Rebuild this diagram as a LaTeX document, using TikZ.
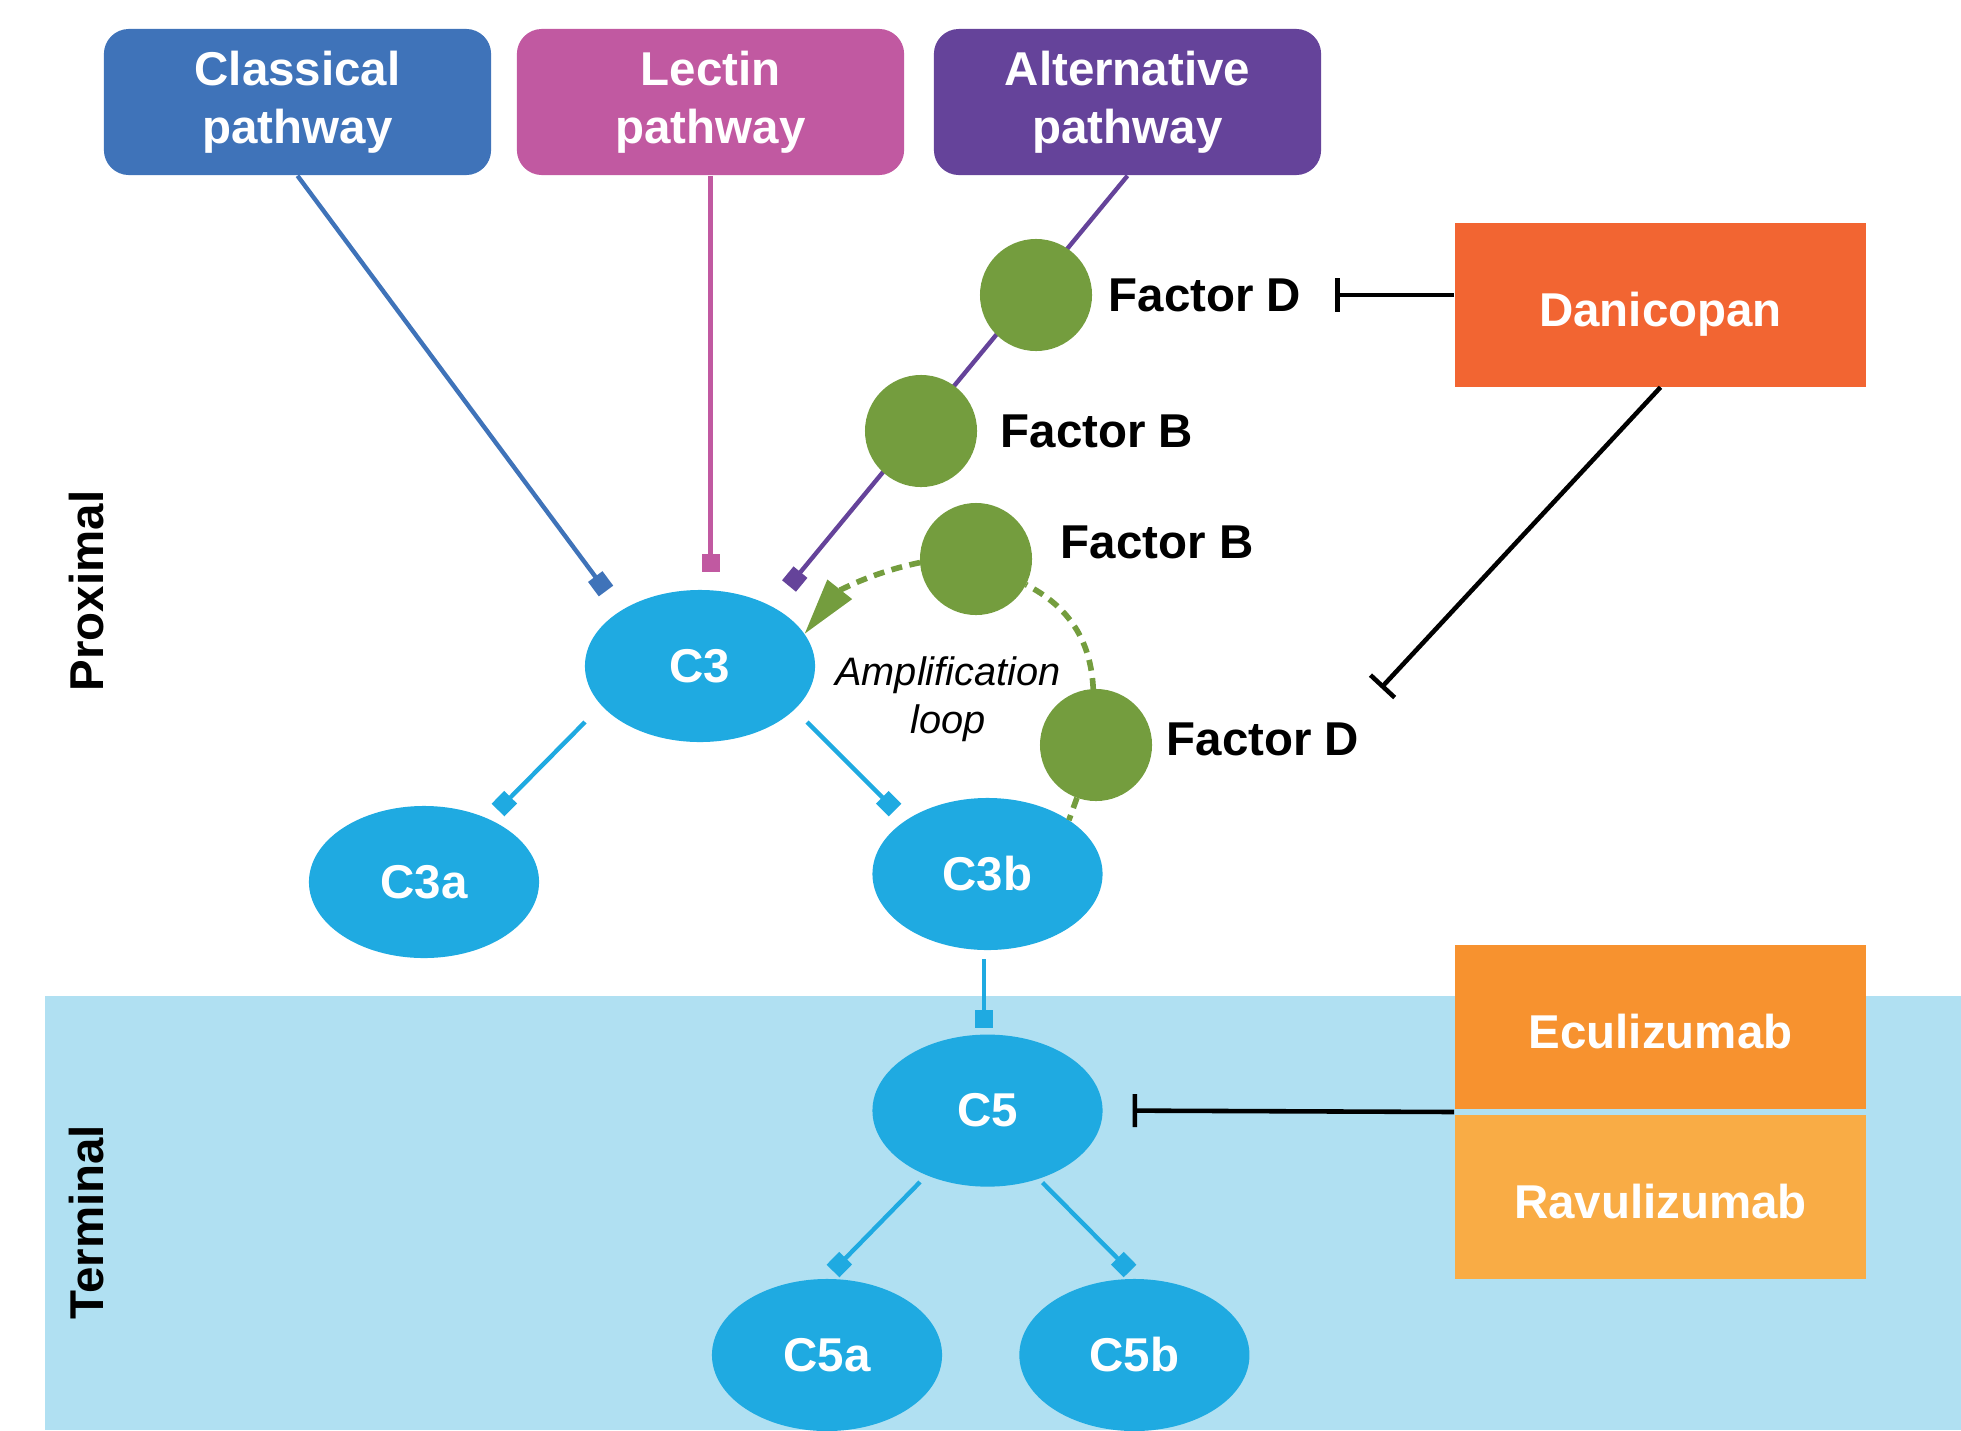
\documentclass[tikz,border=0pt]{standalone}
\usepackage{fontspec}
\setmainfont{Liberation Sans}
\usepackage{tikz}
\usetikzlibrary{calc}
\usetikzlibrary{positioning,arrows.meta,shapes.geometric}

\definecolor{classblue}{RGB}{63,115,185}
\definecolor{lectinpink}{RGB}{193,89,161}
\definecolor{altpurple}{RGB}{101,67,154}
\definecolor{cblue}{RGB}{31,170,225}
\definecolor{termblue}{RGB}{176,224,242}
\definecolor{factgreen}{RGB}{116,157,62}
\definecolor{danired}{RGB}{242,101,50}
\definecolor{eculorange}{RGB}{247,146,47}
\definecolor{ravuorange}{RGB}{249,172,69}

\newcommand{\bigbold}{\fontsize{13.5}{16.5}\selectfont\bfseries}

\tikzset{
  pathbox/.style={rounded corners=0.25cm, minimum width=3.87cm, minimum height=1.46cm, text=white, align=center, font=\bigbold, inner sep=0},
  drugbox/.style={minimum width=4.11cm, minimum height=1.63cm, text=white, font=\bigbold, inner sep=0, text height=0.42cm, text depth=0},
  comp/.style={ellipse, fill=cblue, minimum width=2.3cm, minimum height=1.52cm, text=white, font=\bigbold, inner sep=0, outer sep=0},
  factor/.style={circle, fill=factgreen, minimum size=1.12cm, inner sep=0, outer sep=0},
  flabel/.style={font=\bigbold, inner sep=0},
  act/.style={line width=1.25pt, -{Square[length=0.18cm,width=0.18cm]}},
  inhib/.style={line width=1.3pt, -{Bar[width=0.33cm]}},
  loopline/.style={factgreen, line width=1.6pt, dash pattern=on 0.11cm off 0.075cm},
}

\begin{document}
\begin{tikzpicture}[x=0.01cm, y=-0.01cm]
\useasboundingbox (0,0) rectangle (1961,1430);
\fill[termblue] (45,996) rectangle (1961,1430);                                   % terminal band

\node[pathbox, fill=classblue] (classical) at (297.5,102) {Classical\\pathway};     % pathways
\node[pathbox, fill=lectinpink] (lectin) at (710.5,102) {Lectin\\pathway};
\node[pathbox, fill=altpurple] (alternative) at (1127.5,102) {Alternative\\pathway};

\node[drugbox, fill=danired] (danicopan) at (1660.5,305) {Danicopan};               % drugs
\node[drugbox, fill=eculorange] (eculizumab) at (1660.5,1027) {Eculizumab};
\node[drugbox, fill=ravuorange] (ravulizumab) at (1660.5,1197) {Ravulizumab};

\node[comp] (c3) at (700,666) {C3};                                                % complement proteins
\node[comp] (c3a) at (424,882) {C3a};
\node[comp] (c3b) at (987.5,874) {C3b};
\node[comp] (c5) at (987.5,1110.6) {C5};
\node[comp] (c5a) at (827,1355) {C5a};
\node[comp] (c5b) at (1134.4,1355) {C5b};

\draw[act, altpurple] (alternative.south) -- ($(c3)+(89,-80)$);                    % alternative pathway behind the factors

\node[factor] (fd1) at (1036,295) {};                                              % factors
\node[factor] (fb1) at (921,431) {};
\node[factor] (fb2) at (976,559) {};
\node[factor] (fd2) at (1096,745) {};
\node[flabel, right=0.16cm of fd1] (fdtext1) {Factor D};
\node[flabel, right=0.23cm of fb1] (fbtext1) {Factor B};
\node[flabel, right=0.28cm of fb2, yshift=0.17cm] (fbtext2) {Factor B};
\node[flabel, right=0.14cm of fd2, yshift=0.06cm] (fdtext2) {Factor D};

\node[font=\fontsize{11.3}{13.5}\selectfont\itshape, align=center] (amptext) at (948,699) {Amplification\\loop};

\draw[loopline] (fd2) -- (c3b.north east);                                          % amplification loop
\draw[loopline] (fd2) to[bend right=30] (fb2);
\draw[loopline, -{Triangle[length=0.57cm,width=0.3cm]}] (fb2) to[bend right=20] (c3.17);

\draw[act, classblue] (classical.south) -- ($(c3)+(-94,-75)$);                      % pathways to C3
\draw[act, lectinpink, shorten >=0.18cm] (lectin.south) -- (lectin.south |- c3.north);

\draw[act, cblue] ($(c3)+(-115,56)$) -- ($(c3a)+(74,-72)$);                          % cleavage
\draw[act, cblue] ($(c3)+(107,56)$) -- ($(c3b)+(-92.5,-64)$);
\draw[act, cblue] ($(c3b)+(-3.5,85)$) -- ($(c5)+(-3.5,-82.6)$);
\draw[act, cblue] ($(c5)+(-67.5,71.4)$) -- ($(c5a)+(6,-84)$);
\draw[act, cblue] ($(c5)+(55,72)$) -- ($(c5b)+(-4.4,-84)$);

\draw[inhib] (danicopan.west |- fd1) -- ($(fd1)+(299,0)$);                           % inhibitors
\draw[inhib] (danicopan.south) -- ($(fd2)+(285,-57)$);
\draw[inhib] ($(eculizumab.south west)!0.5!(ravulizumab.north west)$) -- ([xshift=0.3cm]c5.east);

\node[font=\bigbold, rotate=90] (proximal) at (87,591) {Proximal};
\node[font=\bigbold, rotate=90] (terminal) at (87,1222) {Terminal};
\end{tikzpicture}
\end{document}
